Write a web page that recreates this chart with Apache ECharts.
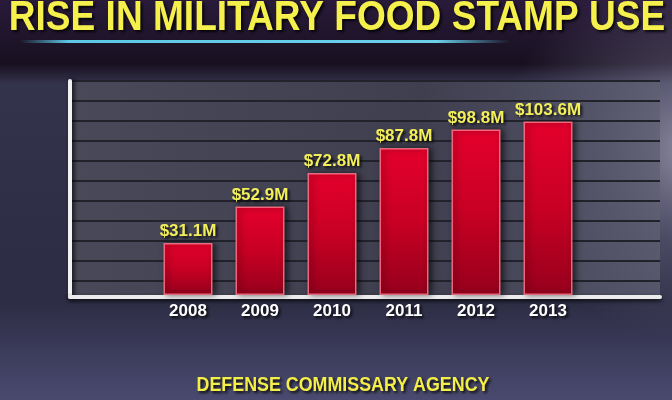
<!DOCTYPE html>
<html>
<head>
<meta charset="utf-8">
<script src="https://cdn.jsdelivr.net/npm/echarts@6/dist/echarts.min.js"></script>
<style>
  html, body { margin: 0; padding: 0; }
  #chart { width: 672px; height: 400px; }
</style>
</head>
<body>
<div id="chart"></div>
<script>
// chart data
const years = ["2008", "2009", "2010", "2011", "2012", "2013"];
const foodStampUse = [31.1, 52.9, 72.8, 87.8, 98.8, 103.6]; // $ millions

const titleText = "RISE IN MILITARY FOOD STAMP USE";
const sourceText = "DEFENSE COMMISSARY AGENCY";

const chart = echarts.init(document.getElementById("chart"));

const shadowText = {
    textShadowColor: "rgba(0,0,0,0.85)",
    textShadowBlur: 3,
    textShadowOffsetX: 2,
    textShadowOffsetY: 2
};

// condensed headline text, squeezed horizontally
function squeezedText(text, x, y, size, scaleX, color) {
    return {
        type: "text",
        x: x, y: y,
        scaleX: scaleX,
        silent: true,
        style: Object.assign({
            text: text,
            font: "bold " + size + "px 'Liberation Sans', Arial, sans-serif",
            fill: color,
            align: "center",
            verticalAlign: "middle",
            shadowColor: "rgba(0,0,0,0.85)",
            shadowBlur: 3,
            shadowOffsetX: 2,
            shadowOffsetY: 2
        }, shadowText)
    };
}

chart.setOption({
    animation: false,
    backgroundColor: {
        type: "linear", x: 0, y: 0, x2: 0, y2: 1,
        colorStops: [
            { offset: 0, color: "#2a1a3a" },
            { offset: 0.1, color: "#1e1429" },
            { offset: 0.16, color: "#181020" },
            { offset: 0.21, color: "#34334c" },
            { offset: 0.75, color: "#2c2c44" },
            { offset: 1, color: "#4a4a70" }
        ]
    },
    graphic: [{
        type: "rect",
        z: -1,
        silent: true,
        shape: { x: 440, y: 0, width: 232, height: 400 },
        style: {
            fill: new echarts.graphic.RadialGradient(690, 150, 190, [
                { offset: 0, color: "rgba(180,178,196,0.7)" },
                { offset: 0.5, color: "rgba(140,138,165,0.3)" },
                { offset: 1, color: "rgba(120,120,150,0)" }
            ], true)
        }
    }, {
        type: "rect",
        silent: true,
        shape: { x: 20, y: 40, width: 490, height: 3 },
        style: {
            fill: new echarts.graphic.LinearGradient(0, 0, 1, 0, [
                { offset: 0, color: "rgba(90,200,230,0)" },
                { offset: 0.1, color: "#5cc8e6" },
                { offset: 0.85, color: "#6cd0ea" },
                { offset: 1, color: "rgba(90,200,230,0)" }
            ])
        }
    },
    squeezedText(titleText, 337, 18, 42, 0.883, "#f6f04c"),
    squeezedText(sourceText, 343, 385, 21, 0.85, "#f4ee48")
    ],
    grid: [{
        // backdrop panel with the white axis frame
        left: 70, right: 12, top: 81, height: 216,
        show: true,
        borderWidth: 0,
        backgroundColor: {
            type: "linear", x: 0, y: 0, x2: 1, y2: 0,
            colorStops: [
                { offset: 0, color: "rgba(74,74,90,0.95)" },
                { offset: 0.6, color: "rgba(64,64,80,0.92)" },
                { offset: 1, color: "rgba(96,96,116,0.75)" }
            ]
        }
    }, {
        // bars
        left: 152, right: 88, top: 94, bottom: 105
    }],
    xAxis: [{
        gridIndex: 0,
        type: "value",
        min: 0, max: 1,
        axisLine: {
            show: true, onZero: false,
            lineStyle: { color: "#ececec", width: 4, shadowColor: "rgba(0,0,0,0.8)", shadowBlur: 4, shadowOffsetY: 2 }
        },
        axisTick: { show: false },
        axisLabel: { show: false },
        splitLine: { show: false }
    }, {
        gridIndex: 1,
        type: "category",
        data: years,
        axisLine: { show: false },
        axisTick: { show: false },
        axisLabel: Object.assign({
            margin: 8,
            color: "#ffffff",
            fontFamily: "Liberation Sans",
            fontWeight: "bold",
            fontSize: 17
        }, shadowText)
    }],
    yAxis: [{
        gridIndex: 0,
        type: "value",
        inverse: true,
        min: 0, max: 216, interval: 20,
        axisLine: {
            show: true,
            lineStyle: { color: "#f2f2f2", width: 4, shadowColor: "rgba(0,0,0,0.8)", shadowBlur: 4, shadowOffsetX: 2 }
        },
        axisTick: { show: false },
        axisLabel: { show: false },
        splitLine: { lineStyle: { color: "#22222c", width: 2 } }
    }, {
        gridIndex: 1,
        type: "value",
        min: 0, max: 120,
        show: false
    }],
    series: [{
        type: "bar",
        xAxisIndex: 1,
        yAxisIndex: 1,
        data: foodStampUse,
        barWidth: 49,
        itemStyle: {
            color: new echarts.graphic.LinearGradient(0, 0, 0, 1, [
                { offset: 0, color: "#e4002c" },
                { offset: 0.5, color: "#c80024" },
                { offset: 1, color: "#96001c" }
            ]),
            borderColor: "rgba(255,120,140,0.85)",
            borderWidth: 1.5,
            shadowColor: "rgba(0,0,0,0.6)",
            shadowBlur: 6,
            shadowOffsetX: 3
        },
        label: Object.assign({
            show: true,
            position: "top",
            distance: 3,
            formatter: (p) => "$" + p.value.toFixed(1) + "M",
            color: "#f3ef5a",
            fontFamily: "Liberation Sans",
            fontWeight: "bold",
            fontSize: 17
        }, shadowText)
    }]
});
</script>
</body>
</html>
